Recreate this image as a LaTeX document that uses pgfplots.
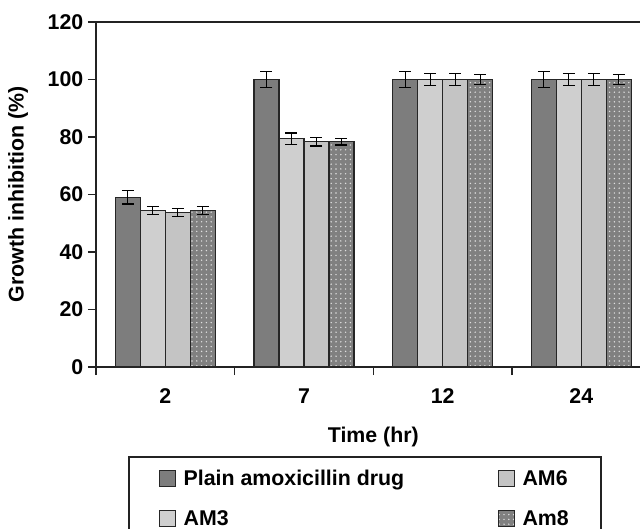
\documentclass[border=0pt]{standalone}
\usepackage{fontspec}
\setmainfont{Liberation Sans}
\usepackage{pgfplots}
\usepackage{pgfplotstable}
\pgfplotsset{compat=1.18}
\usetikzlibrary{patterns.meta}
\definecolor{cplain}{RGB}{125,125,125}
\definecolor{cam3}{RGB}{212,212,212}
\definecolor{cam6}{RGB}{196,196,196}
\definecolor{cam8}{RGB}{128,128,128}
\definecolor{axc}{RGB}{35,35,35}

\pgfplotstableread{
x p pe a3 a3e a6 a6e a8 a8e
1 59.0 2.3 54.4 1.4 53.8 1.4 54.4 1.3
2 100.0 2.7 79.4 2.0 78.4 1.5 78.4 1.2
3 100.0 2.8 100.0 2.2 100.0 2.2 100.0 1.7
4 100.0 2.8 100.0 2.2 100.0 2.0 100.0 1.7
}\datatab

\begin{document}
\begin{tikzpicture}
\begin{axis}[
  at={(0,0)}, anchor=south west,
  scale only axis, width=416pt, height=258.75pt,
  xmin=0.5, xmax=4.5, ymin=0, ymax=120,
  ytick={0,20,...,120},
  xtick={0.5,1.5,2.5,3.5,4.5}, xticklabels={},
  extra x ticks={1,2,3,4}, extra x tick labels={2,7,12,24},
  extra x tick style={major tick length=0pt, xticklabel style={yshift=-13pt}},
  axis x line*=bottom, axis y line*=left,
  axis line style={line width=1.2pt, draw=axc},
  tick align=outside, major tick length=6pt,
  tick style={line width=1.2pt, color=axc},
  tick label style={font=\fontsize{16}{19}\selectfont\bfseries},
  /pgf/number format/assume math mode=true,
  xlabel={Time (hr)}, ylabel={Growth inhibition (\%)},
  label style={font=\fontsize{16}{19}\selectfont\bfseries},
  xlabel style={at={(axis description cs:0.5,-0.204)}, anchor=center},
  ylabel style={at={(axis description cs:-0.1406,0.5)}, anchor=center},
  ybar=0pt, bar width=18.75pt,
  legend columns=2, transpose legend, legend cell align=left,
  legend image code/.code={\draw[#1, line width=0.8pt] (0pt,-6pt) rectangle (12pt,6pt);},
  legend style={at={(axis description cs:0.0586,-0.258)}, anchor=north west,
    draw=axc, line width=1.2pt, inner xsep=22pt, inner ysep=8pt, row sep=13pt,
    font=\fontsize{16}{19}\selectfont\bfseries,
    /tikz/every odd column/.append style={column sep=4pt},
    /tikz/every even column/.append style={column sep=68pt}},
  error bars/error bar style={line width=0.9pt, black},
  error bars/error mark options={rotate=90, mark size=4.5pt, line width=0.9pt, black},
]
\addplot[fill=cplain, draw=black!85, line width=0.9pt,
  error bars/.cd, y dir=both, y explicit]
  table[x=x, y=p, y error=pe]{\datatab};
\addlegendentry{Plain amoxicillin drug}
\addplot[fill=cam3, draw=black!85, line width=0.9pt,
  postaction={pattern={Dots[distance=1.5pt,radius=0.3pt]}, pattern color=gray!80},
  error bars/.cd, y dir=both, y explicit]
  table[x=x, y=a3, y error=a3e]{\datatab};
\addlegendentry{AM3}
\addplot[fill=cam6, draw=black!85, line width=0.9pt,
  error bars/.cd, y dir=both, y explicit]
  table[x=x, y=a6, y error=a6e]{\datatab};
\addlegendentry{AM6}
\addplot[fill=cam8, draw=black!85, line width=0.9pt,
  postaction={pattern={Dots[distance=3.6pt,radius=0.6pt]}, pattern color=gray!25},
  error bars/.cd, y dir=both, y explicit]
  table[x=x, y=a8, y error=a8e]{\datatab};
\addlegendentry{Am8}
\draw[line width=1.2pt, axc] (rel axis cs:0,1) -- (rel axis cs:1,1);
\end{axis}
\pgfresetboundingbox
\useasboundingbox (-72pt,-121.5pt) rectangle (408pt,275.25pt);
\end{tikzpicture}
\end{document}
